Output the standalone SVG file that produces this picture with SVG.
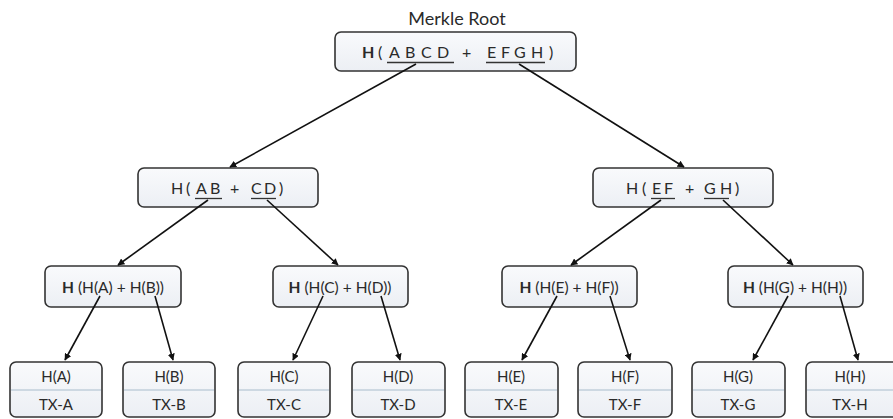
<svg xmlns="http://www.w3.org/2000/svg" width="893" height="419" viewBox="0 0 893 419">
<defs>
<linearGradient id="g" x1="0" y1="0" x2="0" y2="1"><stop offset="0" stop-color="#f9fafc"/><stop offset="1" stop-color="#eceff4"/></linearGradient>
<marker id="ah" viewBox="0 0 10 10" refX="9" refY="5" markerWidth="7" markerHeight="7" orient="auto" markerUnits="userSpaceOnUse"><path d="M0,0 L10,5 L0,10 z" fill="#111"/></marker>
<style>
.box{fill:url(#g);stroke:#333;stroke-width:1.6}
.t{font-family:Lato,"Liberation Sans",sans-serif;fill:#2a2a2a}
.big{font-size:16px}
.mid{font-size:15.5px;text-anchor:middle}
.lf{font-size:15px;text-anchor:middle}
.b{font-weight:bold}
.ul{stroke:#333;stroke-width:1.3}
.dv{stroke:#a8bccc;stroke-width:1}
.c line{stroke:#111;stroke-width:1.6;marker-end:url(#ah)}
</style>
</defs>
<rect width="893" height="419" fill="#fff"/>
<text class="t" x="457" y="25" font-size="18" text-anchor="middle">Merkle Root</text>
<g id="root">
<rect class="box" x="335" y="32" width="241" height="39" rx="6"/>
<text class="t big" y="58"><tspan class="b" x="362">H</tspan><tspan x="378">(</tspan><tspan x="389">A</tspan><tspan x="405">B</tspan><tspan x="421">C</tspan><tspan x="437">D</tspan><tspan x="462">+</tspan><tspan x="487">E</tspan><tspan x="501">F</tspan><tspan x="514">G</tspan><tspan x="531">H</tspan><tspan x="549">)</tspan></text>
<line class="ul" x1="387" y1="62.5" x2="454" y2="62.5"/>
<line class="ul" x1="486" y1="62.5" x2="545" y2="62.5"/>
</g>
<g id="n_abcd">
<rect class="box" x="138" y="168" width="180" height="39" rx="6"/>
<text class="t big" y="194"><tspan x="171">H</tspan><tspan x="186">(</tspan><tspan x="196">A</tspan><tspan x="210">B</tspan><tspan x="230">+</tspan><tspan x="251">C</tspan><tspan x="264">D</tspan><tspan x="279">)</tspan></text>
<line class="ul" x1="195" y1="198.5" x2="222" y2="198.5"/>
<line class="ul" x1="251" y1="198.5" x2="276" y2="198.5"/>
</g>
<g id="n_efgh">
<rect class="box" x="593" y="168" width="180" height="39" rx="6"/>
<text class="t big" y="194"><tspan x="626">H</tspan><tspan x="642">(</tspan><tspan x="652">E</tspan><tspan x="664">F</tspan><tspan x="685">+</tspan><tspan x="704">G</tspan><tspan x="720">H</tspan><tspan x="735">)</tspan></text>
<line class="ul" x1="651" y1="198.5" x2="675" y2="198.5"/>
<line class="ul" x1="704" y1="198.5" x2="729" y2="198.5"/>
</g>
<g id="n_ab">
<rect class="box" x="45" y="266" width="136" height="41" rx="6"/>
<text class="t mid" x="113" y="293"><tspan class="b">H</tspan> (H(A) + H(B))</text>
</g>
<g id="n_cd">
<rect class="box" x="273" y="266" width="135" height="41" rx="6"/>
<text class="t mid" x="340" y="293"><tspan class="b">H</tspan> (H(C) + H(D))</text>
</g>
<g id="n_ef">
<rect class="box" x="502" y="266" width="135" height="41" rx="6"/>
<text class="t mid" x="569" y="293"><tspan class="b">H</tspan> (H(E) + H(F))</text>
</g>
<g id="n_gh">
<rect class="box" x="728" y="266" width="135" height="41" rx="6"/>
<text class="t mid" x="795" y="293"><tspan class="b">H</tspan> (H(G) + H(H))</text>
</g>
<g id="leaf_a"><rect class="box" x="10" y="362" width="92" height="55" rx="6"/><line class="dv" x1="11" y1="390" x2="101" y2="390"/><text class="t lf" x="56" y="382">H(A)</text><text class="t lf" x="56" y="410">TX-A</text></g>
<g id="leaf_b"><rect class="box" x="123" y="362" width="92" height="55" rx="6"/><line class="dv" x1="124" y1="390" x2="214" y2="390"/><text class="t lf" x="169" y="382">H(B)</text><text class="t lf" x="169" y="410">TX-B</text></g>
<g id="leaf_c"><rect class="box" x="238" y="362" width="92" height="55" rx="6"/><line class="dv" x1="239" y1="390" x2="329" y2="390"/><text class="t lf" x="284" y="382">H(C)</text><text class="t lf" x="284" y="410">TX-C</text></g>
<g id="leaf_d"><rect class="box" x="352" y="362" width="93" height="55" rx="6"/><line class="dv" x1="353" y1="390" x2="444" y2="390"/><text class="t lf" x="398" y="382">H(D)</text><text class="t lf" x="398" y="410">TX-D</text></g>
<g id="leaf_e"><rect class="box" x="465" y="362" width="93" height="55" rx="6"/><line class="dv" x1="466" y1="390" x2="557" y2="390"/><text class="t lf" x="511" y="382">H(E)</text><text class="t lf" x="511" y="410">TX-E</text></g>
<g id="leaf_f"><rect class="box" x="578" y="362" width="94" height="55" rx="6"/><line class="dv" x1="579" y1="390" x2="671" y2="390"/><text class="t lf" x="625" y="382">H(F)</text><text class="t lf" x="625" y="410">TX-F</text></g>
<g id="leaf_g"><rect class="box" x="692" y="362" width="93" height="55" rx="6"/><line class="dv" x1="693" y1="390" x2="784" y2="390"/><text class="t lf" x="738" y="382">H(G)</text><text class="t lf" x="738" y="410">TX-G</text></g>
<g id="leaf_h"><rect class="box" x="806" y="362" width="94" height="55" rx="6"/><line class="dv" x1="807" y1="390" x2="893" y2="390"/><text class="t lf" x="850" y="382">H(H)</text><text class="t lf" x="850" y="410">TX-H</text></g>
<g class="c" id="connectors">
<line x1="416" y1="64" x2="230" y2="167"/>
<line x1="519" y1="64" x2="684" y2="167"/>
<line x1="208" y1="200" x2="118" y2="265"/>
<line x1="267" y1="200" x2="338" y2="265"/>
<line x1="661" y1="200" x2="571" y2="265"/>
<line x1="723" y1="200" x2="793" y2="265"/>
<line x1="100" y1="296" x2="65" y2="360"/>
<line x1="155" y1="296" x2="173" y2="360"/>
<line x1="323" y1="296" x2="293" y2="360"/>
<line x1="381" y1="296" x2="400" y2="360"/>
<line x1="557" y1="296" x2="522" y2="360"/>
<line x1="610" y1="296" x2="630" y2="360"/>
<line x1="788" y1="296" x2="753" y2="360"/>
<line x1="840" y1="296" x2="858" y2="360"/>
</g>
</svg>
